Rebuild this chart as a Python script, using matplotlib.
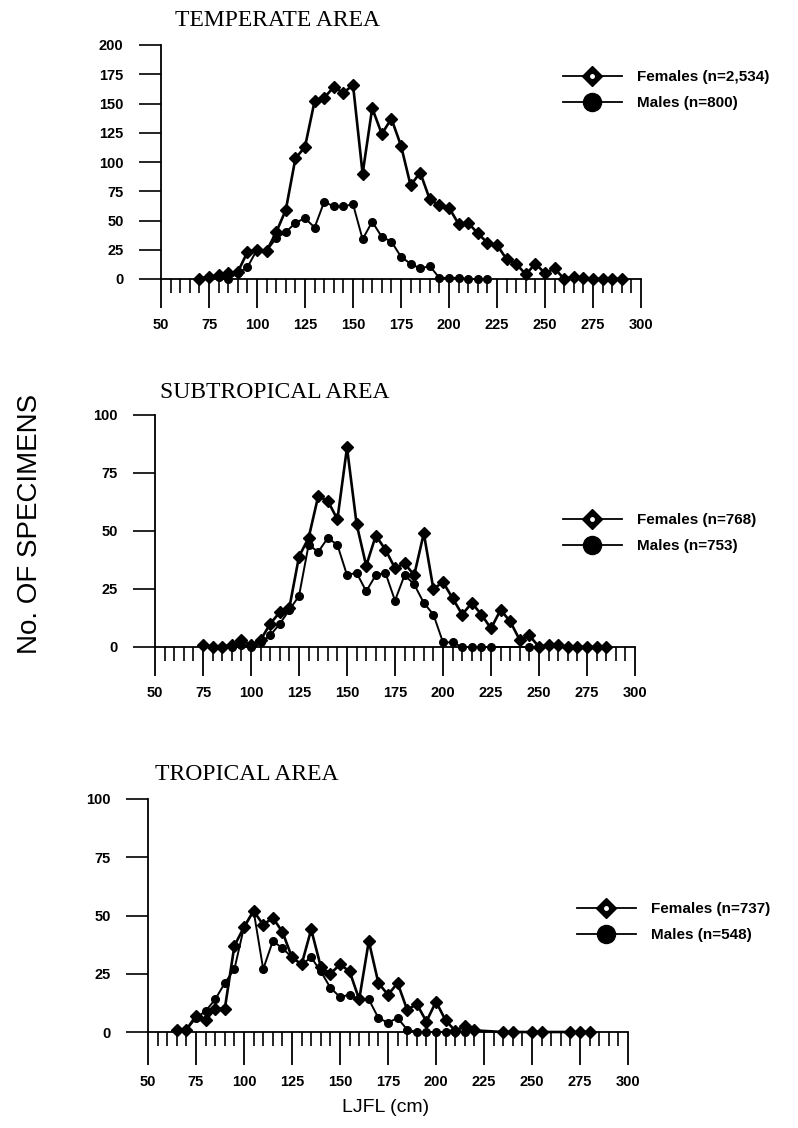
import matplotlib
matplotlib.use("Agg")
import matplotlib.pyplot as plt
from matplotlib.lines import Line2D
from matplotlib.ticker import MultipleLocator

# ---------------- data ----------------
temp_f_x = list(range(70, 295, 5))
temp_f = [0, 2, 3, 5, 6, 23, 25, 24, 40, 59, 103, 113, 152, 155, 164, 159, 166, 90,
          146, 124, 137, 114, 80, 91, 68, 63, 61, 47, 48, 39, 31, 29, 17, 13, 4, 13,
          5, 9, 0, 2, 1, 0, 0, 0, 0]
temp_m_x = list(range(70, 225, 5))
temp_m = [0, 2, 2, 0, 5, 10, 25, 24, 35, 40, 48, 52, 44, 66, 62, 62, 64, 34, 49, 36,
          32, 19, 13, 9, 11, 1, 1, 1, 0, 0, 0]

sub_f_x = list(range(75, 290, 5))
sub_f = [1, 0, 0, 1, 3, 1, 3, 10, 15, 17, 39, 47, 65, 63, 55, 86, 53, 35, 48, 42, 34,
         36, 31, 49, 25, 28, 21, 14, 19, 14, 8, 16, 11, 3, 5, 0, 1, 1, 0, 0, 0, 0, 0]
sub_m_x = list(range(85, 230, 5)) + [245]
sub_m = [0, 0, 1, 0, 2, 5, 10, 16, 22, 44, 41, 47, 44, 31, 32, 24, 31, 32, 20, 31, 27,
         19, 14, 2, 2, 0, 0, 0, 0, 0]

trop_f_x = list(range(65, 225, 5)) + [235, 240, 250, 255, 270, 275, 280]
trop_f = [1, 1, 7, 5, 10, 10, 37, 45, 52, 46, 49, 43, 32, 29, 44, 28, 25, 29, 26, 14,
          39, 21, 16, 21, 9.5, 12, 4.5, 13, 5, 0.5, 2.5, 0.7, 0, 0, 0, 0, 0, 0, 0]
trop_m_x = list(range(65, 220, 5))
trop_m = [1, 1, 6, 9, 14, 21, 27, 45, 52, 27, 39, 36, 32, 29, 32, 26, 19, 15, 16, 14,
          14, 6, 4, 6, 1, 0, 0, 0, 0, 0, 0]

titles = ["TEMPERATE AREA", "SUBTROPICAL AREA", "TROPICAL AREA"]
female_labels = ["Females (n=2,534)", "Females (n=768)", "Females (n=737)"]
male_labels = ["Males (n=800)", "Males (n=753)", "Males (n=548)"]
ymaxes = [200, 100, 100]
xticks = [50, 75, 100, 125, 150, 175, 200, 225, 250, 275, 300]

# ---------------- layout ----------------
W, H = 798, 1128
fig = plt.figure(figsize=(W / 100, H / 100), dpi=100)
SANS = "Liberation Sans"
SERIF = "Liberation Serif"

# panel boxes in pixels: left, top, right, bottom
boxes = [(161, 45, 641, 279), (155, 415, 635, 647), (148, 799, 628, 1032)]
title_pos = [(175, 20), (160, 393), (155, 774)]
legend_pos = [(563, 70), (563, 513), (577, 902)]
tick_len = [21, 21, 24]

series = [(temp_f_x, temp_f, temp_m_x, temp_m),
          (sub_f_x, sub_f, sub_m_x, sub_m),
          (trop_f_x, trop_f, trop_m_x, trop_m)]

for i, (l, t, r, b) in enumerate(boxes):
    ax = fig.add_axes([l / W, 1 - b / H, (r - l) / W, (b - t) / H])
    fx, fy, mx, my = series[i]
    ax.plot(fx, fy, color="black", lw=1.9, marker="D", ms=6, mfc="black",
            mec="black", clip_on=False, zorder=3)
    ax.plot(mx, my, color="black", lw=1.4, marker="o", ms=5.5, mfc="black",
            mec="black", clip_on=False, zorder=3)
    ax.set_xlim(50, 300)
    ax.set_ylim(0, ymaxes[i])
    ax.set_xticks(xticks)
    ax.xaxis.set_minor_locator(MultipleLocator(5))
    ax.yaxis.set_major_locator(MultipleLocator(25))
    for s in ["top", "right"]:
        ax.spines[s].set_visible(False)
    for s in ["left", "bottom"]:
        ax.spines[s].set_linewidth(1.3)
    ax.tick_params(axis="x", which="major", direction="out", length=tick_len[i],
                   width=1.3, pad=7)
    ax.tick_params(axis="x", which="minor", direction="out", length=10, width=1.2)
    ax.tick_params(axis="y", which="major", direction="out", length=16, width=1.2, pad=11)
    for lab in ax.get_xticklabels() + ax.get_yticklabels():
        lab.set_fontfamily(SANS)
        lab.set_fontweight("bold")
        lab.set_fontsize(10.5)
    fig.text(title_pos[i][0] / W, 1 - title_pos[i][1] / H, titles[i],
             family=SERIF, fontsize=17, ha="left", va="center")

    h_f = (Line2D([], [], color="black", lw=1.3, marker="D", ms=10, mfc="black", mec="black"),
           Line2D([], [], ls="none", marker="o", ms=2.5, mfc="white", mec="white"))
    h_m = Line2D([], [], color="black", lw=1.3, marker="o", ms=13, mfc="black", mec="black")
    lx, ly = legend_pos[i]
    ax.legend([h_f, h_m], [female_labels[i], male_labels[i]],
              loc="upper left", bbox_to_anchor=(lx / W, 1 - ly / H),
              bbox_transform=fig.transFigure, frameon=False, borderpad=0,
              borderaxespad=0, handlelength=3.85, handletextpad=1.0,
              labelspacing=0.78,
              prop={"family": SANS, "weight": "bold", "size": 11})

fig.text(30 / W, 1 - 524 / H, "No. OF SPECIMENS", rotation=90, family=SANS,
         fontsize=20, ha="center", va="center")
fig.text(386 / W, 1 - 1108 / H, "LJFL (cm)", family=SANS, fontsize=14,
         ha="center", va="center")

fig.savefig("out.png", dpi=100)
